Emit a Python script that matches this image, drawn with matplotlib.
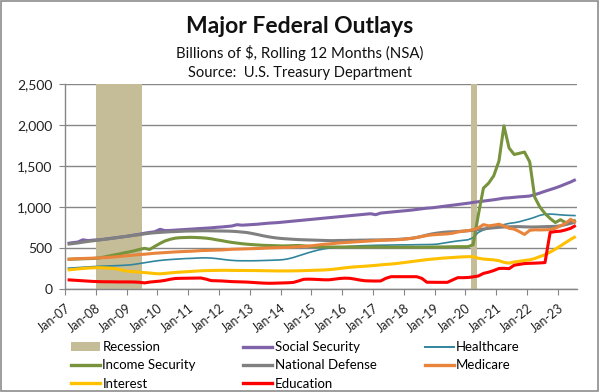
import matplotlib
matplotlib.use('Agg')
from matplotlib import pyplot as plt
from matplotlib.patches import Patch, Rectangle
from matplotlib.lines import Line2D
import matplotlib.dates as mdates
import pandas as pd

plt.rcParams['font.family'] = ['Lato', 'DejaVu Sans']

# bimonthly points, Feb 2007 .. Aug 2023 (Billions of $, rolling 12 months)
dates = pd.date_range('2007-02-01', '2023-08-01', freq='2MS')

social_security = [
    556, 565, 572, 600, 590, 596,
    600, 606, 614, 622, 630, 638,
    648, 658, 668, 680, 690, 698,
    728, 712, 714, 718, 722, 726,
    730, 734, 738, 742, 746, 752,
    756, 762, 768, 784, 778, 782,
    786, 790, 796, 802, 806, 810,
    816, 822, 828, 834, 840, 846,
    852, 858, 864, 870, 876, 882,
    888, 894, 900, 906, 912, 918,
    906, 926, 932, 938, 944, 950,
    956, 962, 970, 978, 986, 990,
    998, 1006, 1014, 1022, 1030, 1038,
    1046, 1056, 1064, 1072, 1080, 1088,
    1098, 1108, 1112, 1118, 1124, 1128,
    1134, 1150, 1170, 1192, 1212, 1232,
    1255, 1280, 1305, 1335]
healthcare = [
    253, 257, 261, 265, 269, 273,
    276, 279, 281, 283, 286, 289,
    293, 300, 310, 320, 330, 340,
    348, 354, 359, 363, 367, 371,
    373, 376, 379, 380, 377, 371,
    363, 355, 349, 345, 344, 344,
    344, 345, 347, 349, 351, 353,
    358, 368, 384, 404, 424, 444,
    462, 477, 490, 499, 506, 511,
    515, 519, 523, 527, 529, 531,
    533, 534, 535, 536, 537, 538,
    538, 539, 540, 541, 542, 543,
    547, 557, 567, 577, 586, 593,
    600, 625, 690, 720, 738, 752,
    765, 785, 800, 808, 820, 838,
    855, 875, 898, 912, 914, 910,
    904, 900, 897, 895]
income_security = [
    362, 364, 366, 368, 370, 372,
    378, 388, 402, 414, 426, 440,
    452, 466, 482, 496, 482, 520,
    556, 586, 606, 620, 626, 628,
    630, 628, 625, 620, 612, 600,
    590, 578, 568, 560, 552, 546,
    541, 537, 533, 531, 529, 527,
    525, 527, 529, 531, 526, 520,
    516, 514, 512, 512, 512, 512,
    512, 513, 512, 511, 512, 512,
    512, 511, 510, 510, 510, 510,
    510, 510, 509, 510, 511, 512,
    512, 513, 514, 515, 516, 516,
    516, 540, 900, 1230, 1290, 1380,
    1560, 1990, 1720, 1640, 1655, 1670,
    1550, 1120, 1000, 920, 860, 810,
    845, 810, 810, 840]
national_defense = [
    546, 553, 561, 571, 580, 588,
    596, 604, 612, 620, 630, 638,
    646, 654, 662, 672, 680, 686,
    690, 694, 698, 700, 703, 706,
    707, 708, 710, 710, 709, 708,
    707, 706, 704, 700, 694, 688,
    676, 664, 650, 638, 628, 620,
    614, 610, 606, 602, 600, 598,
    596, 594, 592, 590, 590, 592,
    592, 594, 594, 596, 596, 598,
    598, 598, 600, 602, 604, 608,
    612, 618, 628, 642, 658, 672,
    682, 690, 695, 698, 701, 705,
    710, 716, 724, 732, 740, 746,
    752, 756, 758, 760, 760, 758,
    756, 756, 758, 760, 762, 764,
    770, 785, 800, 818]
medicare = [
    362, 366, 370, 372, 374, 376,
    378, 382, 386, 390, 396, 402,
    408, 414, 420, 424, 430, 436,
    440, 444, 448, 452, 455, 458,
    460, 464, 468, 470, 472, 474,
    476, 480, 484, 486, 488, 490,
    492, 494, 496, 500, 502, 504,
    506, 508, 512, 516, 520, 524,
    530, 538, 545, 550, 556, 562,
    566, 570, 574, 578, 582, 586,
    590, 594, 596, 598, 600, 604,
    610, 618, 628, 640, 652, 660,
    664, 668, 672, 680, 695, 705,
    712, 722, 745, 785, 770, 778,
    790, 770, 740, 730, 700, 665,
    715, 722, 720, 722, 724, 740,
    770, 800, 850, 810]
interest = [
    232, 238, 244, 250, 255, 258,
    260, 258, 255, 250, 240, 225,
    215, 210, 205, 200, 195, 188,
    185, 190, 196, 202, 206, 210,
    214, 218, 222, 224, 226, 227,
    228, 228, 227, 226, 226, 225,
    225, 224, 223, 222, 221, 220,
    220, 220, 221, 222, 224, 226,
    228, 230, 232, 236, 242, 250,
    258, 264, 270, 274, 278, 283,
    288, 294, 300, 304, 310, 318,
    326, 334, 342, 350, 358, 364,
    370, 376, 380, 384, 388, 392,
    394, 394, 375, 365, 360, 355,
    345, 325, 315, 330, 338, 348,
    355, 372, 395, 418, 450, 485,
    525, 565, 605, 640]
education = [
    112, 108, 104, 100, 96, 92,
    90, 88, 88, 87, 86, 86,
    86, 85, 82, 74, 84, 90,
    96, 105, 118, 128, 130, 131,
    132, 133, 134, 120, 102, 100,
    98, 94, 90, 88, 86, 84,
    80, 76, 72, 70, 70, 72,
    74, 76, 80, 98, 118, 120,
    118, 115, 112, 112, 120, 128,
    132, 130, 120, 108, 100, 98,
    97, 98, 130, 150, 150, 150,
    150, 150, 150, 130, 82, 82,
    81, 81, 81, 110, 138, 138,
    140, 148, 158, 190, 205, 225,
    250, 252, 248, 290, 300, 310,
    313, 315, 318, 322, 690, 700,
    705, 720, 740, 775]

recessions = [('2008-01-01', '2009-07-01'), ('2020-03-01', '2020-05-15')]

series = [
    ('Social Security', social_security, '#7F63A8', 2.2),
    ('Healthcare', healthcare, '#31859C', 1.2),
    ('Income Security', income_security, '#77933C', 2.2),
    ('National Defense', national_defense, '#808080', 2.2),
    ('Medicare', medicare, '#E8843C', 2.2),
    ('Interest', interest, '#FFC000', 2.2),
    ('Education', education, '#FF0000', 2.2),
]

fig = plt.figure(figsize=(6, 3.92), dpi=100)
ax = fig.add_axes([0.1083, 0.2628, 0.8533, 0.5229])

rec_color = '#C4BD97'
for start, end in recessions:
    ax.axvspan(pd.Timestamp(start), pd.Timestamp(end), color=rec_color, lw=0, zorder=1)

handles = {}
for name, vals, color, lw in series:
    ax.plot(dates, vals, color=color, lw=lw, zorder=3, solid_capstyle='butt')
    handles[name] = Line2D([], [], color=color, lw=2.4 if lw > 2 else 1.4)
handles['Recession'] = Patch(facecolor=rec_color, edgecolor='none')

ax.set_ylim(0, 2500)
ax.set_yticks(range(0, 2501, 500))
ax.yaxis.set_major_formatter(matplotlib.ticker.FuncFormatter(lambda v, p: f'{v:,.0f}'))
ax.set_xlim(pd.Timestamp('2007-01-01'), pd.Timestamp('2023-08-15'))
ax.xaxis.set_major_locator(mdates.YearLocator())
ax.xaxis.set_major_formatter(mdates.DateFormatter('%b-%y'))

grid_col = '#868686'
ax.grid(axis='y', color=grid_col, lw=1)
ax.set_axisbelow(True)
for s in ['top', 'right']:
    ax.spines[s].set_visible(False)
for s in ['left', 'bottom']:
    ax.spines[s].set_color(grid_col)
    ax.spines[s].set_linewidth(1)
ax.tick_params(axis='both', colors=grid_col, labelcolor='#222222', length=4)
ax.tick_params(axis='y', labelsize=10, pad=5)
ax.tick_params(axis='x', labelsize=9, pad=5)
for lab in ax.get_xticklabels():
    lab.set_rotation(38)
    lab.set_ha('right')
    lab.set_rotation_mode('anchor')

fig.text(0.5, 0.932, 'Major Federal Outlays', ha='center', va='center',
         fontsize=16.5, fontweight='bold', color='#111111')
fig.text(0.5, 0.866, 'Billions of $, Rolling 12 Months (NSA)', ha='center', va='center',
         fontsize=10.8, color='#111111')
fig.text(0.5, 0.815, 'Source:  U.S. Treasury Department', ha='center', va='center',
         fontsize=10.5, color='#111111')

order = ['Recession', 'Income Security', 'Interest',
         'Social Security', 'National Defense', 'Education',
         'Healthcare', 'Medicare']
fig.legend([handles[n] for n in order], order, ncol=3, loc='upper left',
           bbox_to_anchor=(0.118, 0.13), frameon=False, fontsize=9.5,
           handlelength=2.2, handletextpad=0.2, columnspacing=3.6,
           labelspacing=0.48, borderaxespad=0, borderpad=0,
           handleheight=0.6)

fig.add_artist(Rectangle((0.002, 0.003), 0.995, 0.994, transform=fig.transFigure,
                         fill=False, edgecolor='#8C8C8C', lw=1.2))

fig.savefig('out.png', dpi=100)
